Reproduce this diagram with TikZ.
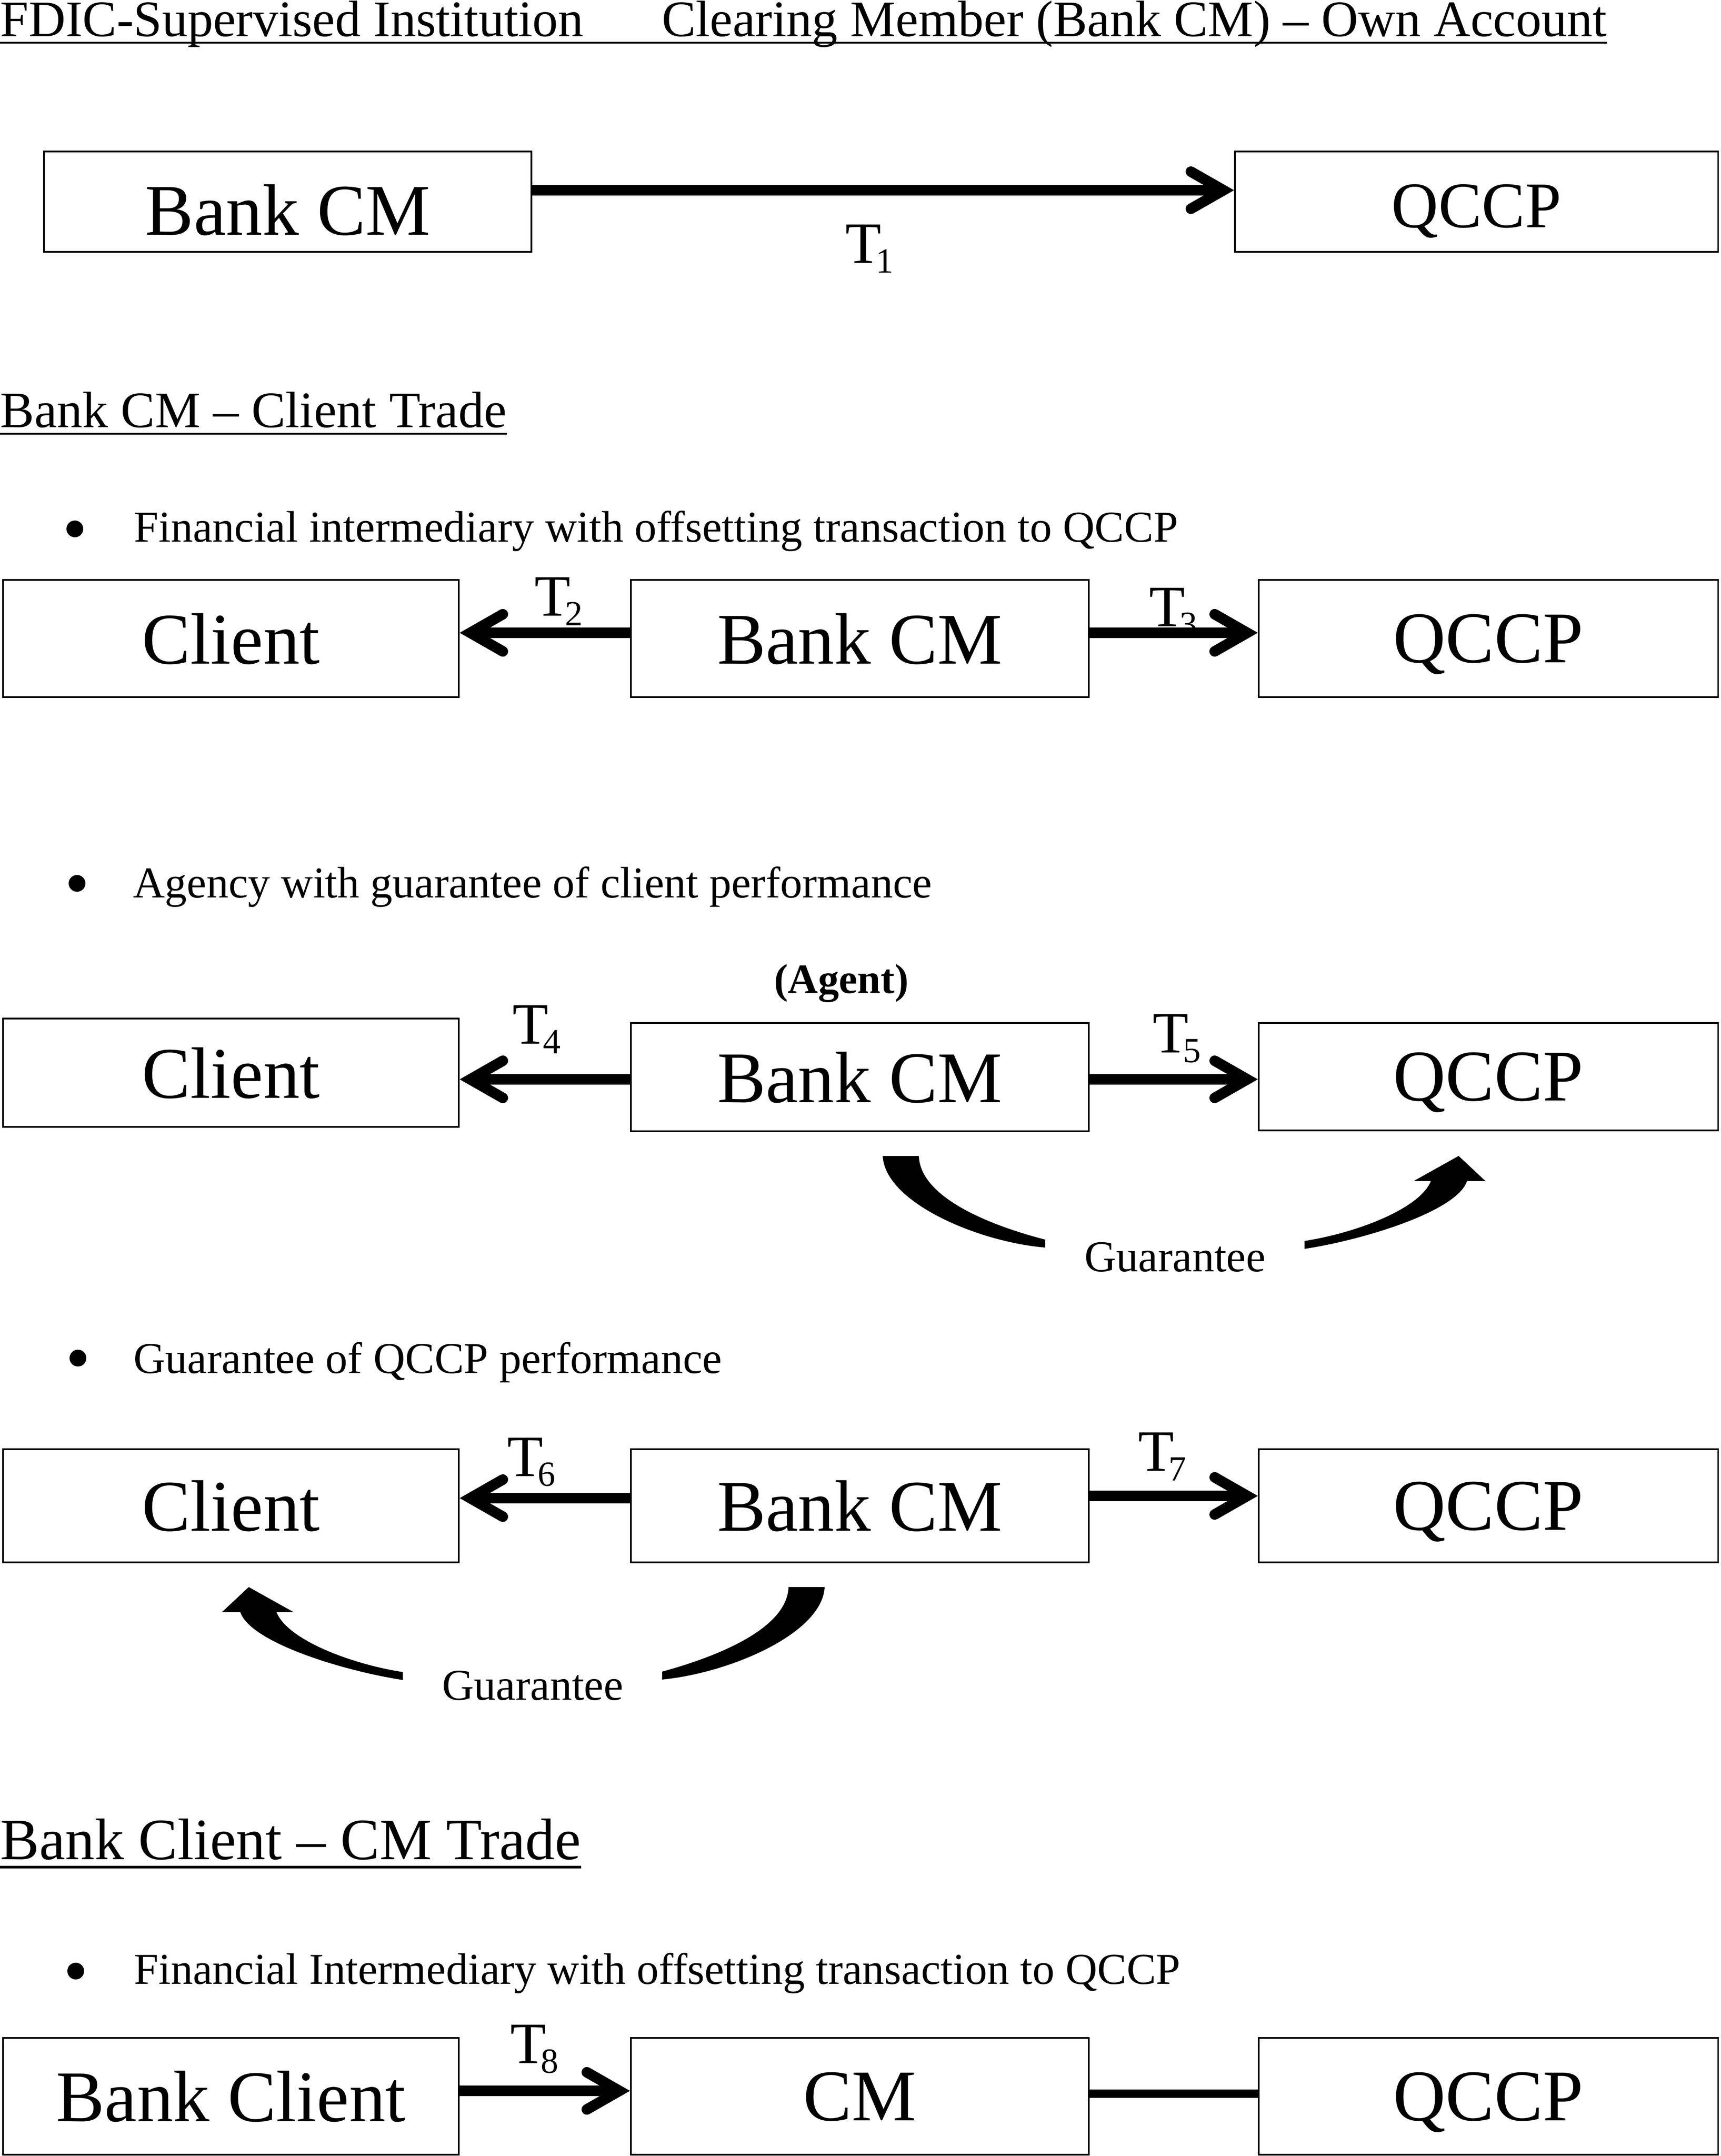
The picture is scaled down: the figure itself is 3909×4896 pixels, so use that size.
\documentclass[tikz,border=0pt]{standalone}
\usepackage{fontspec}
\setmainfont{Liberation Serif}
\usetikzlibrary{arrows.meta,calc}
\newcommand\fsize[1]{\fontsize{#1}{#1}\selectfont}
\newcommand\Tlab[1]{T\kern-3.5pt\raisebox{-6.3pt}{\fsize{22.8pt}#1}}
\begin{document}
\begin{tikzpicture}[x=0.01cm,y=-0.01cm,
  box/.style={draw, line width=1.05pt, inner sep=0pt, text depth=0pt, font=\fsize{47pt}},
  arr/.style={line width=6.8pt, -{Straight Barb[length=21pt,width=24pt,line cap=round,line join=miter]}},
  plainline/.style={line width=5.4pt},
  tlab/.style={anchor=base west, inner sep=0pt, font=\fsize{37.85pt}},
  head/.style={anchor=base west, inner sep=0pt},
  bul/.style={circle, fill=black, inner sep=0pt, minimum size=0.38cm},
  ulin/.style={line width=1.4pt},
  gshape/.style={fill=black}]
\useasboundingbox (0,0) rectangle (3909,4896);

% ---- header
\node[head, font=\fsize{33pt}] (H0) at (0,82) {FDIC-Supervised Institution\hspace{1.53em}Clearing Member (Bank CM) – Own Account};
\draw[ulin] ([yshift=-0.15cm]H0.base west) -- ([yshift=-0.15cm]H0.base east);

% ---- row 1
\node[box, minimum width=11.07cm, minimum height=2.28cm, text height=43pt] (A1) at (653.5,458) {Bank CM};
\node[box, minimum width=10.97cm, minimum height=2.28cm, font=\fsize{42pt}, text height=33pt] (Q1) at (3353.5,458) {QCCP};
\coordinate (a1) at ([yshift=0.26cm]A1.east);
\draw[arr] (a1) -- (a1 -| Q1.west);
\node[tlab] (t1) at (1920,597) {\Tlab{1}};

% ---- section 1
\node[head, font=\fsize{33pt}] (H1) at (0,970) {Bank CM – Client Trade};
\draw[ulin] ([yshift=-0.15cm]H1.base west) -- ([yshift=-0.15cm]H1.base east);

\node[bul] (b1) at (170,1201) {};
\node[head, font=\fsize{28.45pt}] (l1) at (304,1230) {Financial intermediary with offsetting transaction to QCCP};

% ---- row 2
\node[box, minimum width=10.35cm, minimum height=2.66cm] (C2) at (524.5,1450) {Client};
\node[box, minimum width=10.40cm, minimum height=2.66cm] (B2) at (1953,1450) {Bank CM};
\node[box, minimum width=10.43cm, minimum height=2.66cm] (Q2) at (3380.5,1450) {QCCP};
\coordinate (a2) at ([yshift=0.13cm]B2.west);
\draw[arr] (a2) -- (a2 -| C2.east);
\coordinate (a3) at ([yshift=0.13cm]B2.east);
\draw[arr] (a3) -- (a3 -| Q2.west);
\node[tlab] (t2) at (1214,1398) {\Tlab{2}};
\node[tlab] (t3) at (2610,1422) {\Tlab{3}};

% ---- bullet 2
\node[bul] (b2) at (175,2006) {};
\node[head, font=\fsize{28.45pt}] (l2) at (302,2038) {Agency with guarantee of client performance};
\node[anchor=base, inner sep=0pt, font=\fsize{27pt}\bfseries] (ag) at (1911,2255) {(Agent)};

% ---- row 3
\node[box, minimum width=10.35cm, minimum height=2.46cm] (C3) at (524.5,2436) {Client};
\node[box, minimum width=10.40cm, minimum height=2.46cm] (B3) at (1953,2446) {Bank CM};
\node[box, minimum width=10.43cm, minimum height=2.44cm] (Q3) at (3380.5,2445) {QCCP};
\coordinate (a4) at ([yshift=-0.05cm]B3.west);
\draw[arr] (a4) -- (a4 -| C3.east);
\coordinate (a5) at ([yshift=-0.05cm]B3.east);
\draw[arr] (a5) -- (a5 -| Q3.west);
\node[tlab] (t4) at (1164,2370) {\Tlab{4}};
\node[tlab] (t5) at (2618,2390) {\Tlab{5}};

% guarantee shapes row 3
\fill[gshape] (2005,2625) .. controls (2010,2730) and (2220,2820) .. (2374,2833)
  -- (2374,2815) .. controls (2250,2783) and (2090,2720) .. (2087,2625) -- cycle;
\fill[gshape] (2963,2836) .. controls (3100,2815) and (3310,2750) .. (3332,2682)
  -- (3374,2682) -- (3313,2625) -- (3211,2682) -- (3250,2682)
  .. controls (3225,2745) and (3080,2800) .. (2963,2818) -- cycle;
\node[head, font=\fsize{28.45pt}] (g1) at (2463,2887) {Guarantee};

% ---- bullet 3
\node[bul] (b3) at (177,3084) {};
\node[head, font=\fsize{28.45pt}] (l3) at (303,3118) {Guarantee of QCCP performance};

% ---- row 4
\node[box, minimum width=10.35cm, minimum height=2.57cm] (C4) at (524.5,3419.5) {Client};
\node[box, minimum width=10.40cm, minimum height=2.57cm] (B4) at (1953,3419.5) {Bank CM};
\node[box, minimum width=10.43cm, minimum height=2.57cm] (Q4) at (3380.5,3419.5) {QCCP};
\coordinate (a6) at ([yshift=0.175cm]B4.west);
\draw[arr] (a6) -- (a6 -| C4.east);
\coordinate (a7) at ([yshift=0.225cm]B4.east);
\draw[arr] (a7) -- (a7 -| Q4.west);
\node[tlab] (t6) at (1152,3352) {\Tlab{6}};
\node[tlab] (t7) at (2585,3340) {\Tlab{7}};

% guarantee shapes row 4
\fill[gshape] (915,3815) .. controls (778,3794) and (568,3729) .. (546,3661)
  -- (504,3661) -- (565,3604) -- (667,3661) -- (628,3661)
  .. controls (653,3724) and (798,3779) .. (915,3797) -- cycle;
\fill[gshape] (1873,3604) .. controls (1868,3709) and (1658,3799) .. (1504,3814)
  -- (1504,3796) .. controls (1628,3762) and (1788,3699) .. (1791,3604) -- cycle;
\node[head, font=\fsize{28.45pt}] (g2) at (1004,3860) {Guarantee};

% ---- section 2
\node[head, font=\fsize{37.85pt}] (H2) at (0,4222) {Bank Client – CM Trade};
\draw[line width=1.7pt] ([yshift=-0.18cm]H2.base west) -- ([yshift=-0.18cm]H2.base east);

\node[bul] (b4) at (172,4476) {};
\node[head, font=\fsize{28.45pt}] (l4) at (304,4505) {Financial Intermediary with offsetting transaction to QCCP};

% ---- row 5
\node[box, minimum width=10.35cm, minimum height=2.65cm] (C5) at (524.5,4760.5) {Bank Client};
\node[box, minimum width=10.40cm, minimum height=2.65cm] (B5) at (1953,4760.5) {CM};
\node[box, minimum width=10.43cm, minimum height=2.65cm] (Q5) at (3380.5,4760.5) {QCCP};
\coordinate (a8) at ([yshift=0.125cm]C5.east);
\draw[arr] (a8) -- (a8 -| B5.west);
\coordinate (a9) at ([yshift=0.065cm]B5.east);
\draw[plainline] (a9) -- (a9 -| Q5.west);
\node[tlab] (t8) at (1159,4685) {\Tlab{8}};
\end{tikzpicture}
\end{document}
